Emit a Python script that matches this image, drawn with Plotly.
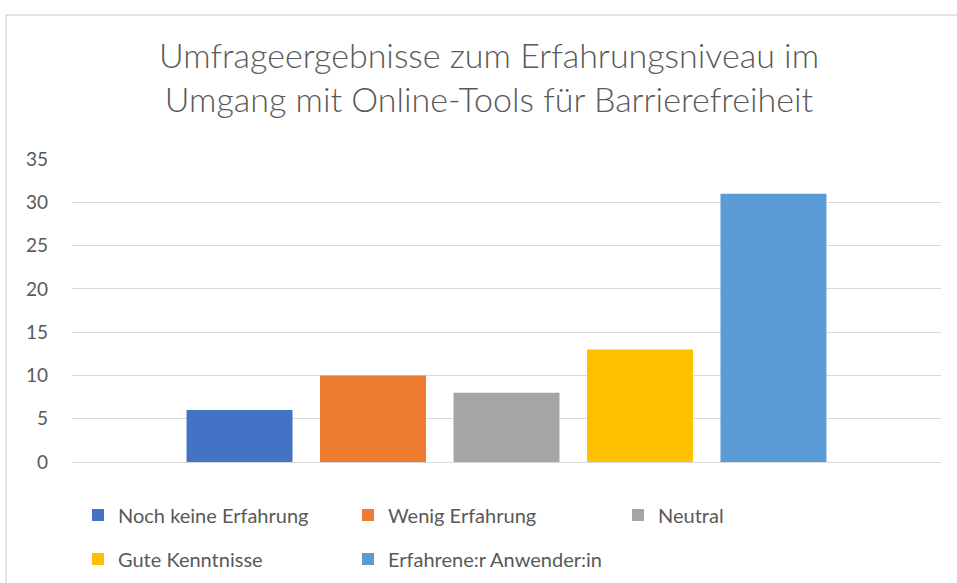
import plotly.graph_objects as go

categories = ["Erfahrungsniveau"]
series_names = ["Noch keine Erfahrung", "Wenig Erfahrung", "Neutral",
                "Gute Kenntnisse", "Erfahrene:r Anwender:in"]
series_values = [6, 10, 8, 13, 31]
series_colors = ["#4472C4", "#ED7D31", "#A5A5A5", "#FFC000", "#5B9BD5"]
y_ticks = [0, 5, 10, 15, 20, 25, 30, 35]

TXT = "#595959"
FONT = "Lato"

fig = go.Figure()
for i, (name, val, col) in enumerate(zip(series_names, series_values, series_colors)):
    fig.add_trace(go.Bar(
        x=categories, y=[val], name=name, marker=dict(color=col, line=dict(width=0)),
        legend="legend" if i < 3 else "legend2",
    ))

W, H = 957, 583
L, R, T, B = 72, 16, 159, 121
pw, ph = W - L - R, H - T - B

def px_x(x):
    return (x - L) / pw

def px_y(y):
    return (H - B - y) / ph

leg_common = dict(orientation="h", xanchor="left", yanchor="middle",
                  xref="container", yref="container",
                  entrywidth=225, entrywidthmode="pixels",
                  font=dict(size=20, color=TXT, family=FONT),
                  bgcolor="rgba(0,0,0,0)", traceorder="normal")

fig.update_layout(
    width=W, height=H,
    margin=dict(l=L, r=R, t=T, b=B, autoexpand=False),
    paper_bgcolor="white", plot_bgcolor="white",
    barmode="group", bargap=0.232, bargroupgap=0.206,
    font=dict(family=FONT, color=TXT, size=19),
    title=dict(
        text="Umfrageergebnisse zum Erfahrungsniveau im<br>Umgang mit Online-Tools für Barrierefreiheit",
        x=489 / W, xanchor="center", xref="container",
        y=1 - 68 / H, yanchor="top", yref="container",
        font=dict(family=FONT, size=34, color=TXT, weight=300),
    ),
    xaxis=dict(showticklabels=False, showgrid=False, showline=False, zeroline=False,
               ticks=""),
    yaxis=dict(range=[0, 35], tickvals=y_ticks, showgrid=True, gridcolor="#D9D9D9",
               gridwidth=1.3, zeroline=True, zerolinecolor="#D9D9D9", zerolinewidth=1.3,
               showline=False, ticks="", ticklabelstandoff=23,
               tickfont=dict(family=FONT, size=19, color=TXT)),
    legend=dict(x=78 / W, y=1 - 515 / H, **leg_common),
    legend2=dict(x=78 / W, y=1 - 559 / H, **leg_common),
    showlegend=True,
    shapes=[dict(type="rect", xref="paper", yref="paper",
                 x0=px_x(6), x1=px_x(970), y0=px_y(600), y1=px_y(15),
                 line=dict(color="#D9D9D9", width=1.3), fillcolor="rgba(0,0,0,0)", layer="below")],
)

fig.write_html("out.html", config={"displayModeBar": False},
               post_script="document.body.style.margin='0';document.body.style.overflow='hidden';")
